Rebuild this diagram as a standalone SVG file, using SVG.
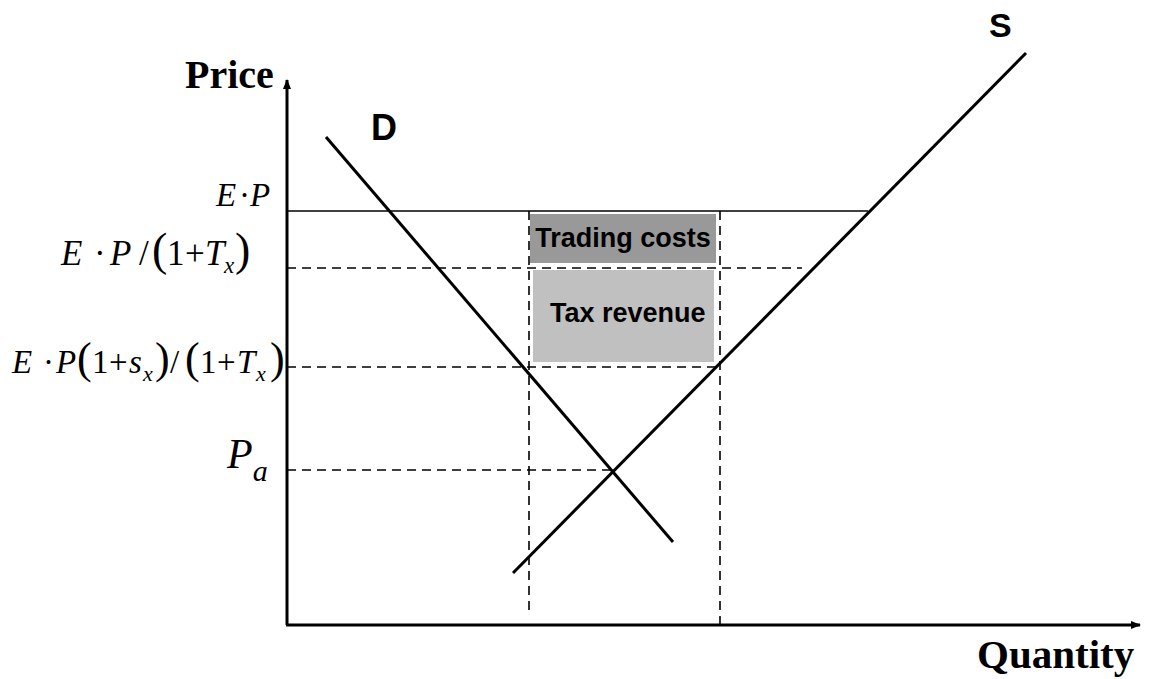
<svg xmlns="http://www.w3.org/2000/svg" width="1151" height="679" viewBox="0 0 1151 679">
<style>
.ax{stroke:#000;stroke-width:3;fill:none}
.cur{stroke:#000;stroke-width:3;fill:none}
.dash{stroke:#000;stroke-width:1.6;stroke-dasharray:9 6;fill:none}
.thin{stroke:#000;stroke-width:1.5;fill:none}
.m{font-family:"Liberation Serif",serif;font-style:italic;fill:#000}
.mr{font-style:normal}
.lbl{font-family:"Liberation Sans",Arial,sans-serif;font-weight:bold;fill:#000}
.ttl{font-family:"Liberation Serif",serif;font-weight:bold;fill:#000}
</style>
<defs>
<marker id="ah" markerWidth="10" markerHeight="8" refX="9" refY="4" orient="auto" markerUnits="userSpaceOnUse">
<path d="M0,0 L10,4 L0,8 z" fill="#000"/>
</marker>
</defs>
<rect width="1151" height="679" fill="#fff"/>
<g id="areas">
<rect id="trading-costs-box" x="530" y="214" width="186" height="49" fill="#999"/>
<rect id="tax-revenue-box" x="533" y="270" width="181" height="92" fill="#c0c0c0"/>
</g>
<g id="connectors">
<line class="thin" x1="287" y1="211" x2="868" y2="211"/>
<line class="dash" x1="287" y1="268" x2="802" y2="268"/>
<line class="dash" x1="287" y1="367" x2="720" y2="367"/>
<line class="dash" x1="287" y1="470" x2="612" y2="470"/>
<line class="dash" x1="529" y1="211" x2="529" y2="614"/>
<line class="dash" x1="720" y1="211" x2="720" y2="626"/>
<line class="cur" x1="326" y1="137" x2="673" y2="542"/>
<line class="cur" x1="513" y1="573" x2="1026" y2="53"/>
<line class="ax" x1="287" y1="625" x2="287" y2="80" marker-end="url(#ah)"/>
<line class="ax" x1="286" y1="625" x2="1140" y2="625" marker-end="url(#ah)"/>
</g>
<g id="labels">
<text class="ttl" x="185" y="88" font-size="40">Price</text>
<text class="ttl" x="977" y="668" font-size="41">Quantity</text>
<text class="lbl" x="371" y="140" font-size="36">D</text>
<text class="lbl" x="989" y="37" font-size="34">S</text>
<text class="lbl" x="623" y="247" font-size="27" text-anchor="middle">Trading costs</text>
<text class="lbl" x="550" y="322" font-size="27">Tax revenue</text>
<text class="m" font-size="33" y="206"><tspan x="216">E</tspan><tspan class="mr" x="239">·</tspan><tspan x="250">P</tspan></text>
<text class="m" font-size="35" y="265"><tspan x="61">E</tspan><tspan class="mr" x="94">·</tspan><tspan x="110">P</tspan><tspan class="mr" x="139">/</tspan><tspan class="mr" x="152" font-size="46">(</tspan><tspan class="mr" x="167">1</tspan><tspan class="mr" x="185">+</tspan><tspan x="205">T</tspan><tspan x="224" font-size="23" dy="8">x</tspan><tspan class="mr" x="235" font-size="46" dy="-8">)</tspan></text>
<text class="m" font-size="33" y="373"><tspan x="12">E</tspan><tspan class="mr" x="43">·</tspan><tspan x="56">P</tspan><tspan class="mr" x="77" font-size="44">(</tspan><tspan class="mr" x="92">1</tspan><tspan class="mr" x="109">+</tspan><tspan x="129">s</tspan><tspan x="143" font-size="22" dy="8">x</tspan><tspan class="mr" x="155" font-size="44" dy="-8">)</tspan><tspan class="mr" x="170">/</tspan><tspan class="mr" x="185" font-size="44">(</tspan><tspan class="mr" x="200">1</tspan><tspan class="mr" x="217">+</tspan><tspan x="237">T</tspan><tspan x="256" font-size="22" dy="8">x</tspan><tspan class="mr" x="270" font-size="44" dy="-8">)</tspan></text>
<text class="m" x="227" y="468" font-size="42">P<tspan font-size="30" dy="13">a</tspan></text>
</g>
</svg>
